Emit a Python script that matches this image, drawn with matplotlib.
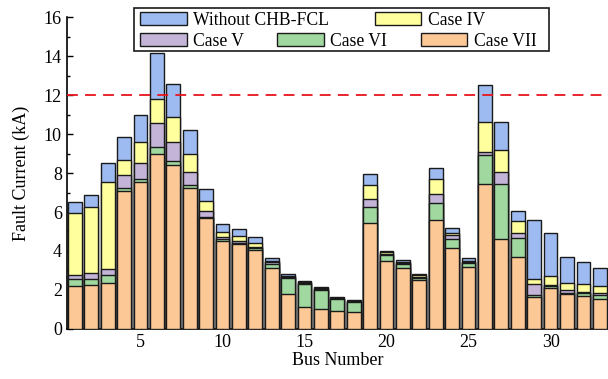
import numpy as np
import matplotlib
matplotlib.use('Agg')
import matplotlib.pyplot as plt
from matplotlib.patches import Patch, Rectangle
from matplotlib.ticker import MultipleLocator

plt.rcParams['font.family'] = ['Liberation Serif', 'DejaVu Serif']

# bus numbers and fault currents (kA) for each case
bus = np.arange(1, 34)
without_fcl = [6.53, 6.87, 8.50, 9.83, 10.97, 14.14, 12.55, 10.20, 7.20, 5.37, 5.13, 4.70, 3.62,
               2.82, 2.48, 2.14, 1.63, 1.50, 7.95, 4.02, 3.54, 2.82, 8.24, 5.16, 3.62, 12.51,
               10.60, 6.05, 5.59, 4.91, 3.71, 3.42, 3.11]
case_iv = [5.93, 6.24, 7.56, 8.67, 9.57, 11.78, 10.85, 8.99, 6.55, 4.96, 4.75, 4.41, 3.50,
           2.74, 2.41, 2.09, 1.58, 1.45, 7.38, 3.95, 3.45, 2.75, 7.68, 4.94, 3.50, 10.60,
           9.18, 5.56, 2.55, 2.72, 2.37, 2.31, 2.20]
case_v = [2.77, 2.85, 3.09, 7.88, 8.50, 10.55, 9.61, 8.03, 6.03, 4.70, 4.50, 4.19, 3.42,
          2.66, 2.35, 2.05, 1.55, 1.42, 6.67, 3.87, 3.39, 2.67, 6.92, 4.80, 3.44, 9.09,
          8.03, 4.91, 2.31, 2.26, 2.00, 1.91, 1.83]
case_vi = [2.55, 2.58, 2.75, 7.21, 7.71, 9.32, 8.63, 7.37, 5.73, 4.63, 4.43, 4.14, 3.33,
           2.60, 2.29, 2.00, 1.52, 1.38, 6.24, 3.79, 3.33, 2.60, 6.45, 4.63, 3.37, 8.92,
           7.42, 4.68, 1.74, 2.18, 1.86, 1.82, 1.73]
case_vii = [2.20, 2.24, 2.38, 7.08, 7.54, 8.97, 8.41, 7.21, 5.68, 4.51, 4.34, 4.05, 3.13,
            1.79, 1.11, 1.03, 0.91, 0.87, 5.42, 3.50, 3.11, 2.51, 5.59, 4.17, 3.16, 7.45,
            4.62, 3.69, 1.63, 2.12, 1.78, 1.69, 1.55]
limit = 12

labels = ['Without CHB-FCL', 'Case IV', 'Case V', 'Case VI', 'Case VII']
series = [without_fcl, case_iv, case_v, case_vi, case_vii]
colors = ['#9DBBF0', '#FFFF9E', '#C3B4D8', '#A0D8A0', '#FCC896']

fig = plt.figure(figsize=(6.08, 3.79), dpi=100)
ax = fig.add_axes([0.1097, 0.132, 0.8903, 0.823])

# bars overlap, biggest one behind
for i, (vals, c) in enumerate(zip(series, colors)):
    ax.bar(bus, vals, width=0.84, color=c, edgecolor='#1a1a1a', linewidth=1.0, zorder=2 + i)

ax.axhline(limit, color='#E8141E', linewidth=1.3, linestyle=(0, (6, 4)), zorder=10)

ax.set_xlim(0.5, 33.5)
ax.set_ylim(0, 16)
ax.xaxis.set_major_locator(MultipleLocator(5))
ax.yaxis.set_major_locator(MultipleLocator(2))
ax.yaxis.set_minor_locator(MultipleLocator(1))
ax.tick_params(direction='in', labelsize=13, length=4, width=1)
ax.tick_params(which='minor', direction='in', length=2.5, width=1)
ax.tick_params(axis='x', which='minor', bottom=False)
for s in ['top', 'right']:
    ax.spines[s].set_visible(False)
for s in ['left', 'bottom']:
    ax.spines[s].set_linewidth(1.2)
ax.set_xlabel('Bus Number', fontsize=13, labelpad=1)
ax.set_ylabel('Fault Current (kA)', fontsize=13, labelpad=10)

# legend: row 1 two items, row 2 three items, one frame round both
h = [Patch(facecolor=c, edgecolor='#1a1a1a', linewidth=1.0) for c in colors]
kw = dict(frameon=False, fontsize=12.7, handlelength=2.65, handleheight=0.75,
          handletextpad=0.35, borderpad=0, borderaxespad=0)
leg1 = fig.legend(h[:2], labels[:2], ncol=2, columnspacing=2.6,
                  loc='upper left', bbox_to_anchor=(140 / 608, 1 - 12 / 379), **kw)
leg2 = fig.legend(h[2:], labels[2:], ncol=3, columnspacing=1.9,
                  loc='upper left', bbox_to_anchor=(140 / 608, 1 - 33 / 379), **kw)
frame = Rectangle((134 / 608, 1 - 51 / 379), (549 - 134) / 608, 43 / 379,
                  transform=fig.transFigure, facecolor='white',
                  edgecolor='#1a1a1a', linewidth=1.2)
fig.add_artist(frame)
frame.set_zorder(2)
leg1.set_zorder(3)
leg2.set_zorder(3)

fig.savefig('out.png', dpi=100)
